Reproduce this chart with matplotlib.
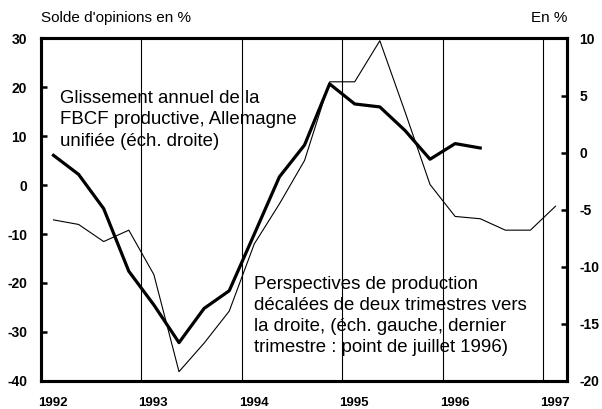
import numpy as np
import matplotlib
matplotlib.use("Agg")
import matplotlib.pyplot as plt

plt.rcParams['font.family'] = ['Liberation Sans', 'DejaVu Sans']

# quarters (mid-quarter positions on a decimal year axis)
quarters = ["1992T1", "1992T2", "1992T3", "1992T4",
            "1993T1", "1993T2", "1993T3", "1993T4",
            "1994T1", "1994T2", "1994T3", "1994T4",
            "1995T1", "1995T2", "1995T3", "1995T4",
            "1996T1", "1996T2", "1996T3", "1996T4",
            "1997T1"]

# perspectives de production, solde d'opinions (left scale)
perspectives = [6.1, 2.2, -4.8, -17.6, -24.5, -32.2, -25.2, -21.6, -10.0,
                1.7, 8.2, 20.7, 16.6, 16.0, 11.2, 5.3, 8.5, 7.6]

# glissement annuel FBCF productive, % (right scale)
fbcf = [-5.9, -6.3, -7.8, -6.8, -10.7, -19.2, -16.7, -13.9, -8.0, -4.5,
        -0.7, 6.2, 6.2, 9.8, 3.6, -2.8, -5.6, -5.8, -6.8, -6.8, -4.7]

years = [1992, 1993, 1994, 1995, 1996, 1997]
left_ticks = [-40, -30, -20, -10, 0, 10, 20, 30]
right_ticks = [-20, -15, -10, -5, 0, 5, 10]


def to_year(q):
    return int(q[:4]) + (int(q[-1]) - 0.5) / 4.0


x_all = np.array([to_year(q) for q in quarters])

fig = plt.figure(figsize=(6.02, 4.09), dpi=100)
ax = fig.add_axes([0.068, 0.069, 0.874, 0.837])
ax2 = ax.twinx()

for y in years[1:]:
    ax.axvline(y, color='black', lw=0.8, zorder=1)

ax.plot(x_all[:len(perspectives)], perspectives, color='black', lw=2.3, zorder=3)
ax2.plot(x_all[:len(fbcf)], fbcf, color='black', lw=0.8, zorder=3)

ax.set_xlim(1992, 1997.24)
ax.set_ylim(-40, 30)
ax2.set_ylim(-20, 10)

ax.set_yticks(left_ticks)
ax.set_yticklabels([str(v) for v in left_ticks], fontweight='bold', fontsize=10)
ax2.set_yticks(right_ticks)
ax2.set_yticklabels([str(v) for v in right_ticks], fontweight='bold', fontsize=10)
ax.set_xticks([y + 0.12 for y in years])
ax.set_xticklabels([str(y) for y in years], fontweight='bold', fontsize=9.5)

ax.tick_params(axis='y', direction='in', length=4, width=1.8, pad=10)
ax2.tick_params(axis='y', direction='in', length=4, width=1.8, pad=9)
ax.tick_params(axis='x', length=0, pad=12)

for a in (ax, ax2):
    for s in a.spines.values():
        s.set_linewidth(2.2)

fig.text(0.068, 0.955, "Solde d'opinions en %", fontsize=11, ha='left', va='center')
fig.text(0.942, 0.955, "En %", fontsize=11, ha='right', va='center')

ax.text(1992.19, 19.5, "Glissement annuel de la\nFBCF productive, Allemagne\nunifiée (éch. droite)",
        fontsize=13.4, ha='left', va='top', linespacing=1.36, zorder=2)
ax.text(1994.12, -18.6, "Perspectives de production\ndécalées de deux trimestres vers\n"
        "la droite, (éch. gauche, dernier\ntrimestre : point de juillet 1996)",
        fontsize=13.4, ha='left', va='top', linespacing=1.3, zorder=2)

fig.savefig("out.png", dpi=100)
